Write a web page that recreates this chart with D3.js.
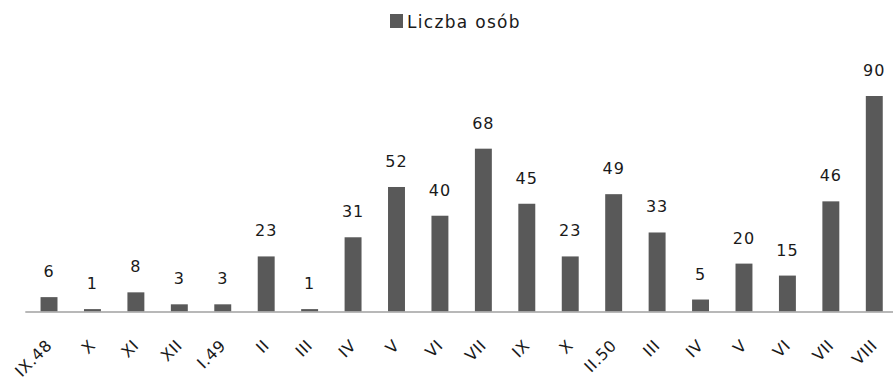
<!DOCTYPE html>
<html>
<head>
<meta charset="utf-8">
<script src="https://cdn.jsdelivr.net/npm/d3@7"></script>
<style>
  html, body { margin: 0; padding: 0; background: #fff; }
  svg { display: block; }
</style>
</head>
<body>
<svg id="chart" width="893" height="380"></svg>
<script>
const categories = ["IX.48","X","XI","XII","I.49","II","III","IV","V","VI","VII","IX","X","II.50","III","IV","V","VI","VII","VIII"];
const values = [6,1,8,3,3,23,1,31,52,40,68,45,23,49,33,5,20,15,46,90];
const seriesName = "Liczba osób";

const svg = d3.select("#chart");
const barColor = "#595959";
const font = "DejaVu Sans, Verdana, sans-serif";

const x = d3.scaleBand()
  .domain(d3.range(categories.length))
  .range([27.3, 896])
  .paddingInner(0.61)
  .paddingOuter(0.305);

const y = d3.scaleLinear().domain([0, 90]).range([311.5, 96]);

// bars
svg.append("g").selectAll("rect")
  .data(values)
  .join("rect")
  .attr("x", (d, i) => x(i))
  .attr("y", d => y(d))
  .attr("width", x.bandwidth())
  .attr("height", d => y(0) - y(d))
  .attr("fill", barColor);

// value labels
svg.append("g").selectAll("text")
  .data(values)
  .join("text")
  .attr("x", (d, i) => x(i) + x.bandwidth() / 2)
  .attr("y", d => y(d) - 20)
  .attr("text-anchor", "middle")
  .attr("font-family", font)
  .attr("font-size", 16)
  .attr("letter-spacing", 1)
  .attr("fill", "#1a1a1a")
  .text(d => d);

// x axis
const axis = svg.append("g")
  .attr("transform", `translate(0,${y(0)})`)
  .call(d3.axisBottom(x).tickSize(0).tickFormat(i => categories[i]));
axis.select(".domain")
  .attr("d", `M${x.range()[0] - 2},0.5H${x.range()[1]}`)
  .attr("stroke", "#a0a0a0")
  .attr("stroke-width", 1.5);
axis.selectAll(".tick text")
  .attr("x", 0).attr("y", 0).attr("dy", null)
  .attr("transform", "translate(4,35) rotate(-45)")
  .attr("text-anchor", "end")
  .attr("font-family", font)
  .attr("font-size", 16)
  .attr("letter-spacing", 0.6)
  .attr("fill", "#1a1a1a");

// legend
const lg = svg.append("g");
lg.append("rect")
  .attr("x", 390).attr("y", 14).attr("width", 13).attr("height", 14)
  .attr("fill", barColor);
lg.append("text")
  .attr("x", 407).attr("y", 28)
  .attr("font-family", font)
  .attr("font-size", 17)
  .attr("letter-spacing", 1.3)
  .attr("fill", "#1a1a1a")
  .text(seriesName);
</script>
</body>
</html>
